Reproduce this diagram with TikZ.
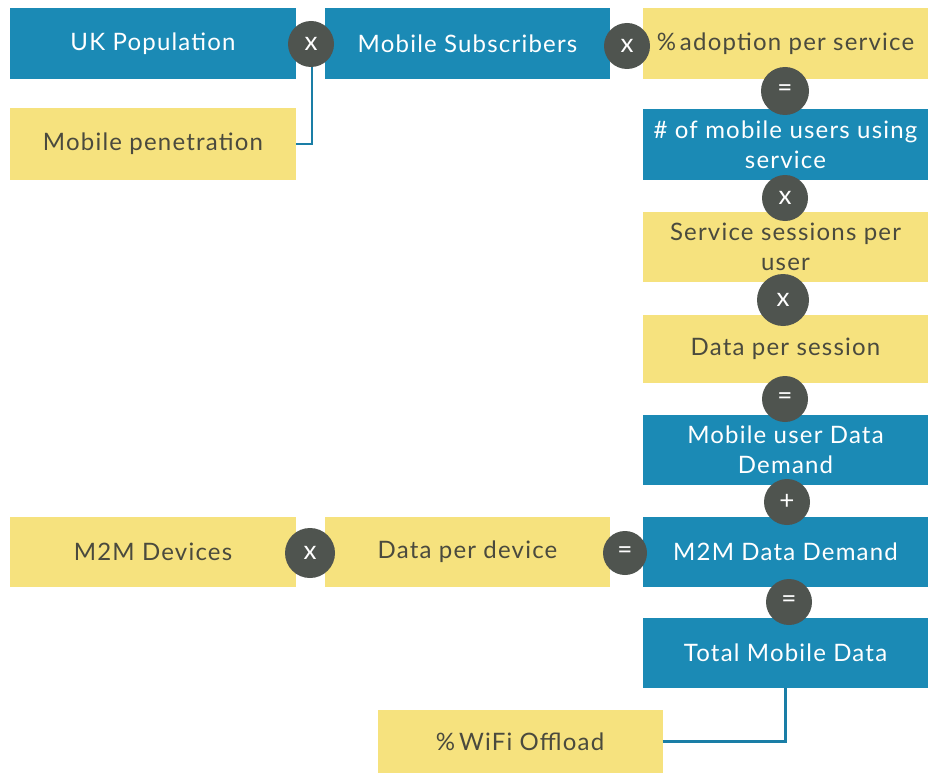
\documentclass[tikz,border=0pt]{standalone}
\usepackage{fontspec}
\setmainfont{Lato}[LetterSpace=5]
\definecolor{bblue}{HTML}{1B8AB5}
\definecolor{byel}{HTML}{F6E27E}
\definecolor{cdark}{HTML}{4F544F}
\definecolor{tdark}{HTML}{4A4A3E}
\definecolor{lblue}{HTML}{1A7EA6}
\begin{document}
\begin{tikzpicture}[x=1pt,y=-1pt,
  box/.style={rectangle,inner sep=0pt,align=center,font=\fontsize{24}{30}\selectfont},
  bluebox/.style={box,fill=bblue,text=white},
  yelbox/.style={box,fill=byel,text=tdark},
  op/.style={circle,fill=cdark,text=white,inner sep=0pt,font=\fontsize{26}{26}\selectfont},
  conn/.style={draw=lblue,line width=2.5pt}]
\fill[white] (0,0) rectangle (928,773);
\useasboundingbox (0,0) rectangle (928,773);
% boxes
\node[bluebox,minimum width=286pt,minimum height=71pt] (ukp) at (153,43.5) {UK Population};
\node[yelbox,minimum width=286pt,minimum height=72pt] (mp) at (153,144) {Mobile penetration};
\node[bluebox,minimum width=285pt,minimum height=71pt] (ms) at (467.5,43.5) {Mobile Subscribers};
\node[yelbox,minimum width=285pt,minimum height=71pt] (adopt) at (785.5,43.5) {\%\,adoption per service};
\node[bluebox,minimum width=285pt,minimum height=71pt] (users) at (785.5,144.5) {\# of mobile users using\\service};
\node[yelbox,minimum width=285pt,minimum height=70pt] (sess) at (785.5,247) {Service sessions per\\user};
\node[yelbox,minimum width=285pt,minimum height=68pt] (dps) at (785.5,349) {Data per session};
\node[bluebox,minimum width=285pt,minimum height=70pt] (mudd) at (785.5,450) {Mobile user Data\\Demand};
\node[bluebox,minimum width=285pt,minimum height=70pt] (m2mdd) at (785.5,552) {M2M Data Demand};
\node[bluebox,minimum width=285pt,minimum height=70pt] (tmd) at (785.5,653) {Total Mobile Data};
\node[yelbox,minimum width=286pt,minimum height=70pt] (m2md) at (153,552) {M2M Devices};
\node[yelbox,minimum width=285pt,minimum height=70pt] (dpd) at (467.5,552) {Data per device};
\node[yelbox,minimum width=285pt,minimum height=63pt] (wifi) at (520,741.5) {\%\,WiFi Offload};
% connectors
\draw[conn] (mp.east) -| (312,50);
\draw[conn] (wifi.east) -| (tmd.south);
% operators
\node[op,minimum size=46pt] (c1) at (311,44) {x};
\node[op,minimum size=46pt] (c2) at (627,46) {x};
\node[op,minimum size=48pt] (c3) at (785,91) {=};
\node[op,minimum size=46pt] (c4) at (785,198) {x};
\node[op,minimum size=52pt] (c5) at (783,300) {x};
\node[op,minimum size=46pt] (c6) at (785,399) {=};
\node[op,minimum size=46pt] (c7) at (787,502) {+};
\node[op,minimum size=50pt] (c8) at (310,553) {x};
\node[op,minimum size=44pt] (c9) at (625,553) {=};
\node[op,minimum size=46pt] (c10) at (789,602) {=};
\end{tikzpicture}
\end{document}
